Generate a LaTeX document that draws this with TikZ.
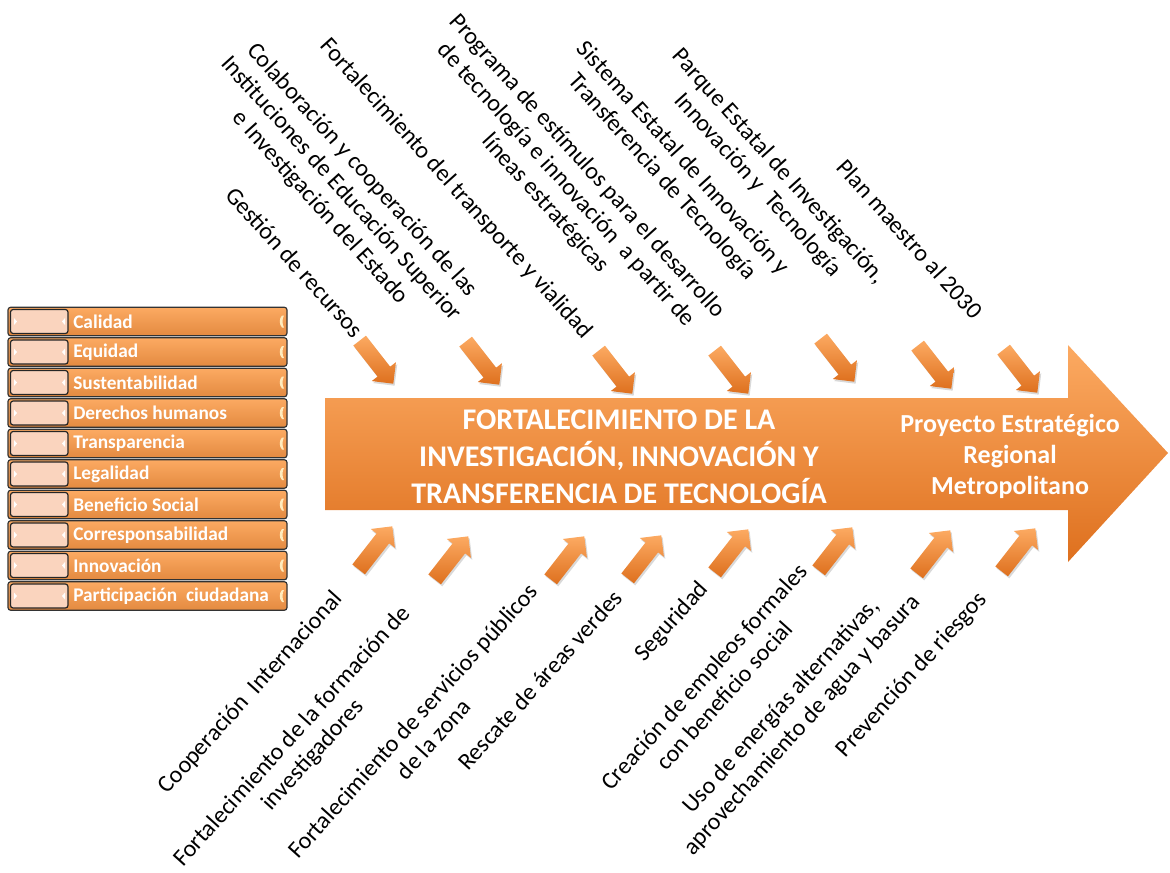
\documentclass[tikz,border=0pt]{standalone}
\usepackage{fontspec}
\setmainfont{Carlito}
\usepackage{tikz}
\usetikzlibrary{shapes.arrows,shadows}

\definecolor{orangeMain}{RGB}{247,150,70}
\definecolor{orangeLight}{RGB}{252,170,98}
\definecolor{orangeDark}{RGB}{222,112,30}
\definecolor{peach}{RGB}{250,212,190}
\definecolor{markCream}{RGB}{255,236,190}

\tikzset{
  smallarrow/.style={single arrow, draw=none, minimum height=41pt, inner sep=5.8pt,
    single arrow head extend=5.5pt, top color=orangeLight, bottom color=orangeDark,
    drop shadow={shadow xshift=1pt, shadow yshift=-1.5pt, opacity=0.3}},
  toplabel/.style={rotate=-48, align=center, inner sep=0.75pt, font=\fontsize{18}{21}\selectfont},
  botlabel/.style={rotate=48, align=center, inner sep=0.75pt, font=\fontsize{18}{21}\selectfont},
  rowbar/.style={draw=black!80, line width=0.9pt, rounded corners=2pt, top color=orangeLight, bottom color=orangeMain!92!black},
  rowinner/.style={draw=black!85, line width=0.9pt, rounded corners=2pt, fill=peach},
  rowtext/.style={anchor=west, inner sep=0pt, text=white, font=\fontsize{14.5}{17}\selectfont\bfseries},
  valuerow/.pic={
    \draw[rowbar] (0,-14.25) rectangle (279,14.25);
    \draw[rowinner] (2.5,-12) rectangle (60,12);
    \fill[white] (6,-3.5) -- (9,0) -- (6,3.5) -- cycle;
    \fill[white] (57,-3.5) -- (54,0) -- (57,3.5) -- cycle;
    \fill[markCream] (274,-6) .. controls (271,-3) and (271,3) .. (274,6) -- (276,6) .. controls (274,3) and (274,-3) .. (276,-6) -- cycle;
    \node[rowtext] (-name) at (65,0) {#1};
  }
}

\begin{document}
\begin{tikzpicture}[x=0.75pt,y=0.75pt,yscale=-1,xscale=1]
\useasboundingbox (0,0) rectangle (1170,872);

%Shape: Value rows
\pic (calidad) at (8,321.5) {valuerow=Calidad};
\pic (equidad) at (8,352) {valuerow=Equidad};
\pic (sustentabilidad) at (8,382.5) {valuerow=Sustentabilidad};
\pic (derechos) at (8,413) {valuerow=Derechos humanos};
\pic (transparencia) at (8,443.5) {valuerow=Transparencia};
\pic (legalidad) at (8,474) {valuerow=Legalidad};
\pic (beneficio) at (8,504.5) {valuerow=Beneficio Social};
\pic (corresponsabilidad) at (8,535) {valuerow=Corresponsabilidad};
\pic (innovacion) at (8,565.5) {valuerow=Innovación};
\pic (participacion) at (8,596) {valuerow=Participación\ \ ciudadana};

%Shape: Main arrow
\draw [draw=none, top color=orangeLight, middle color=orangeMain, bottom color=orangeDark] (325,398) -- (1068,398) -- (1068,345) -- (1168,453) -- (1068,562) -- (1068,510) -- (325,510) -- cycle ;

%Shape: Arrows from above
\node [smallarrow, rotate=-52] (aGestion) at (374,359) {};
\node [smallarrow, rotate=-52] (aColaboracion) at (480,360) {};
\node [smallarrow, rotate=-52] (aTransporte) at (613,369) {};
\node [smallarrow, rotate=-52] (aEstimulos) at (729,369) {};
\node [smallarrow, rotate=-52] (aSistema) at (835,357) {};
\node [smallarrow, rotate=-52] (aParque) at (932,364) {};
\node [smallarrow, rotate=-52] (aPlan) at (1018,368) {};
%Shape: Arrows from below
\node [smallarrow, rotate=52] (aCooperacion) at (373,551) {};
\node [smallarrow, rotate=52] (aFormacion) at (449,561) {};
\node [smallarrow, rotate=52] (aServicios) at (565,561) {};
\node [smallarrow, rotate=52] (aRescate) at (642,560) {};
\node [smallarrow, rotate=52] (aSeguridad) at (729,554) {};
\node [smallarrow, rotate=52] (aEmpleos) at (833,552) {};
\node [smallarrow, rotate=52] (aEnergias) at (931,555) {};
\node [smallarrow, rotate=52] (aRiesgos) at (1016,553) {};

% Text Node
\draw (619,457) node (titulo) [align=center, inner sep=0.75pt, text=white, font=\fontsize{22.5}{27.75}\selectfont\bfseries] {FORTALECIMIENTO DE LA\\INVESTIGACIÓN, INNOVACIÓN Y\\TRANSFERENCIA DE TECNOLOGÍA};
% Text Node
\draw (1010,456) node (proyecto) [align=center, inner sep=0.75pt, text=white, font=\fontsize{19.5}{23.25}\selectfont\bfseries] {Proyecto Estratégico\\Regional\\Metropolitano};

% Text Node
\draw (295,262) node (gestion) [toplabel] {Gestión de recursos};
% Text Node
\draw (341,189) node (colaboracion) [toplabel] {Colaboración y cooperación de las\\Instituciones de Educación Superior\\e Investigación del Estado};
% Text Node
\draw (456,189) node (transporte) [toplabel] {Fortalecimiento del transporte y vialidad};
% Text Node
\draw (566,185) node (estimulos) [toplabel] {Programa de estímulos para el desarrollo\\de tecnología e innovación\ \ a partir de\\líneas estratégicas};
% Text Node
\draw (672,168) node (sistema) [toplabel] {Sistema Estatal de Innovación y\\Transferencia de Tecnología};
% Text Node
\draw (768,176) node (parque) [toplabel] {Parque Estatal de Investigación,\\Innovación y\ \ Tecnología};
% Text Node
\draw (910,239) node (plan) [toplabel] {Plan maestro al 2030};

% Text Node
\draw (251,693) node (cooperacion) [botlabel] {Cooperación\ \ Internacional};
% Text Node
\draw (303,746) node (formacion) [botlabel] {Fortalecimiento de la formación de\\investigadores};
% Text Node
\draw (423,730) node (servicios) [botlabel] {Fortalecimiento de servicios públicos\\de la zona};
% Text Node
\draw (540,680) node (rescate) [botlabel] {Rescate de áreas verdes};
% Text Node
\draw (672,622) node (seguridad) [botlabel] {Seguridad};
% Text Node
\draw (714,686) node (empleos) [botlabel] {Creación de empleos formales\\con beneficio social};
% Text Node
\draw (792,716) node (energias) [botlabel] {Uso de energías alternativas,\\aprovechamiento de agua y basura};
% Text Node
\draw (912,675) node (riesgos) [botlabel] {Prevención de riesgos};

\end{tikzpicture}
\end{document}
